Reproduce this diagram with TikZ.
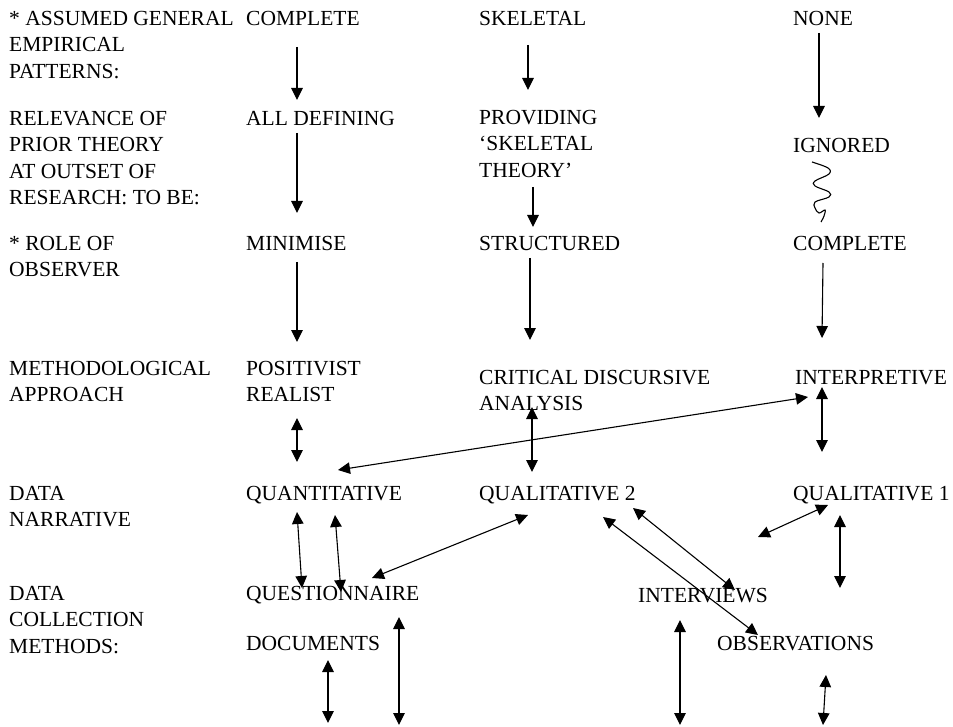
\documentclass[tikz,border=0pt]{standalone}
\usepackage{fontspec}
\setmainfont{Liberation Serif}
\usetikzlibrary{arrows.meta}
\begin{document}
\begin{tikzpicture}[x=1pt,y=-1pt,
  txt/.style={anchor=north west, inner sep=0pt, align=left, font=\fontsize{21.5}{26.5}\selectfont},
  arr/.style={line width=1.1pt, -{Triangle[length=12pt,width=11.5pt]}},
  darr/.style={line width=1.1pt, {Triangle[length=12pt,width=11.5pt]}-{Triangle[length=12pt,width=11.5pt]}},
  wave/.style={line width=1.1pt}]
\useasboundingbox[fill=white] (0,0) rectangle (953,727);
% row labels
\node[txt] (l1) at (9,11) {* ASSUMED GENERAL\\EMPIRICAL\\PATTERNS:};
\node[txt] (l2) at (9,111) {RELEVANCE OF\\PRIOR THEORY\\AT OUTSET OF\\RESEARCH: TO BE:};
\node[txt] (l3) at (9,236) {* ROLE OF\\OBSERVER};
\node[txt] (l4) at (9,361) {METHODOLOGICAL\\APPROACH};
\node[txt] (l5) at (9,486) {DATA\\NARRATIVE};
\node[txt] (l6) at (9,586) {DATA\\COLLECTION\\METHODS:};
% column 1
\node[txt] (c1a) at (246,11) {COMPLETE};
\node[txt] (c1b) at (246,111) {ALL DEFINING};
\node[txt] (c1c) at (246,236) {MINIMISE};
\node[txt] (c1d) at (246,361) {POSITIVIST\\REALIST};
\node[txt] (c1e) at (246,486) {QUANTITATIVE};
\node[txt] (c1f) at (246,586) {QUESTIONNAIRE};
\node[txt] (c1g) at (246,636) {DOCUMENTS};
% column 2
\node[txt] (c2a) at (479,11) {SKELETAL};
\node[txt] (c2b) at (479,110) {PROVIDING\\‘SKELETAL\\THEORY’};
\node[txt] (c2c) at (479,236) {STRUCTURED};
\node[txt] (c2d) at (479,370) {CRITICAL DISCURSIVE\\ANALYSIS};
\node[txt] (c2e) at (479,486) {QUALITATIVE 2};
% column 3
\node[txt] (c3a) at (793,11) {NONE};
\node[txt] (c3b) at (793,138) {IGNORED};
\node[txt] (c3c) at (793,236) {COMPLETE};
\node[txt] (c3d) at (795,370) {INTERPRETIVE};
\node[txt] (c3e) at (793,486) {QUALITATIVE 1};
\node[txt] (int) at (638,588) {INTERVIEWS};
\node[txt] (obs) at (717,636) {OBSERVATIONS};
% connector end points
\coordinate (p1s) at (297,47);   \coordinate (p1e) at (297,100);
\coordinate (p2s) at (297,133);  \coordinate (p2e) at (297,213);
\coordinate (p3s) at (297,262);  \coordinate (p3e) at (297,342);
\coordinate (p4s) at (297,418);  \coordinate (p4e) at (297,462);
\coordinate (p5s) at (338,470);  \coordinate (p5e) at (808,397);
\coordinate (p6s) at (528,45);   \coordinate (p6e) at (528,90);
\coordinate (p7s) at (533,187);  \coordinate (p7e) at (533,227);
\coordinate (p8s) at (530,258);  \coordinate (p8e) at (530,340);
\coordinate (p9s) at (532,407);  \coordinate (p9e) at (532,472);
\coordinate (p10s) at (819,33);  \coordinate (p10e) at (819,118);
\coordinate (p12s) at (823,263); \coordinate (p12e) at (822,338);
\coordinate (p13s) at (822,387); \coordinate (p13e) at (822,452);
\coordinate (p14s) at (297,512); \coordinate (p14e) at (302,588);
\coordinate (p15s) at (335,515); \coordinate (p15e) at (341,592);
\coordinate (p16s) at (372,578); \coordinate (p16e) at (528,515);
\coordinate (p17s) at (399,617); \coordinate (p17e) at (399,725);
\coordinate (p18s) at (328,660); \coordinate (p18e) at (328,723);
\coordinate (p19s) at (633,508); \coordinate (p19e) at (735,590);
\coordinate (p20s) at (603,517); \coordinate (p20e) at (758,635);
\coordinate (p21s) at (758,537); \coordinate (p21e) at (828,505);
\coordinate (p22s) at (840,515); \coordinate (p22e) at (840,588);
\coordinate (p23s) at (680,620); \coordinate (p23e) at (680,725);
\coordinate (p24s) at (826,675); \coordinate (p24e) at (823,725);
% single-headed arrows
\draw[arr] (p1s) -- (p1e);
\draw[arr] (p2s) -- (p2e);
\draw[arr] (p3s) -- (p3e);
\draw[arr] (p6s) -- (p6e);
\draw[arr] (p7s) -- (p7e);
\draw[arr] (p8s) -- (p8e);
\draw[arr] (p10s) -- (p10e);
\draw[arr] (p12s) -- (p12e);
% double-headed arrows
\draw[darr] (p4s) -- (p4e);
\draw[darr] (p5s) -- (p5e);
\draw[darr] (p9s) -- (p9e);
\draw[darr] (p13s) -- (p13e);
\draw[darr] (p14s) -- (p14e);
\draw[darr] (p15s) -- (p15e);
\draw[darr] (p16s) -- (p16e);
\draw[darr] (p17s) -- (p17e);
\draw[darr] (p18s) -- (p18e);
\draw[darr] (p19s) -- (p19e);
\draw[darr] (p20s) -- (p20e);
\draw[darr] (p21s) -- (p21e);
\draw[darr] (p22s) -- (p22e);
\draw[darr] (p23s) -- (p23e);
\draw[darr] (p24s) -- (p24e);
% wavy line below IGNORED
\draw[wave] plot[smooth, tension=0.6] coordinates {(812,162) (828,168) (829,174) (815,181) (815,186) (829,192) (829,197) (815,202) (815,208) (819,213) (825,210) (824,216) (821,222)};
\end{tikzpicture}
\end{document}
